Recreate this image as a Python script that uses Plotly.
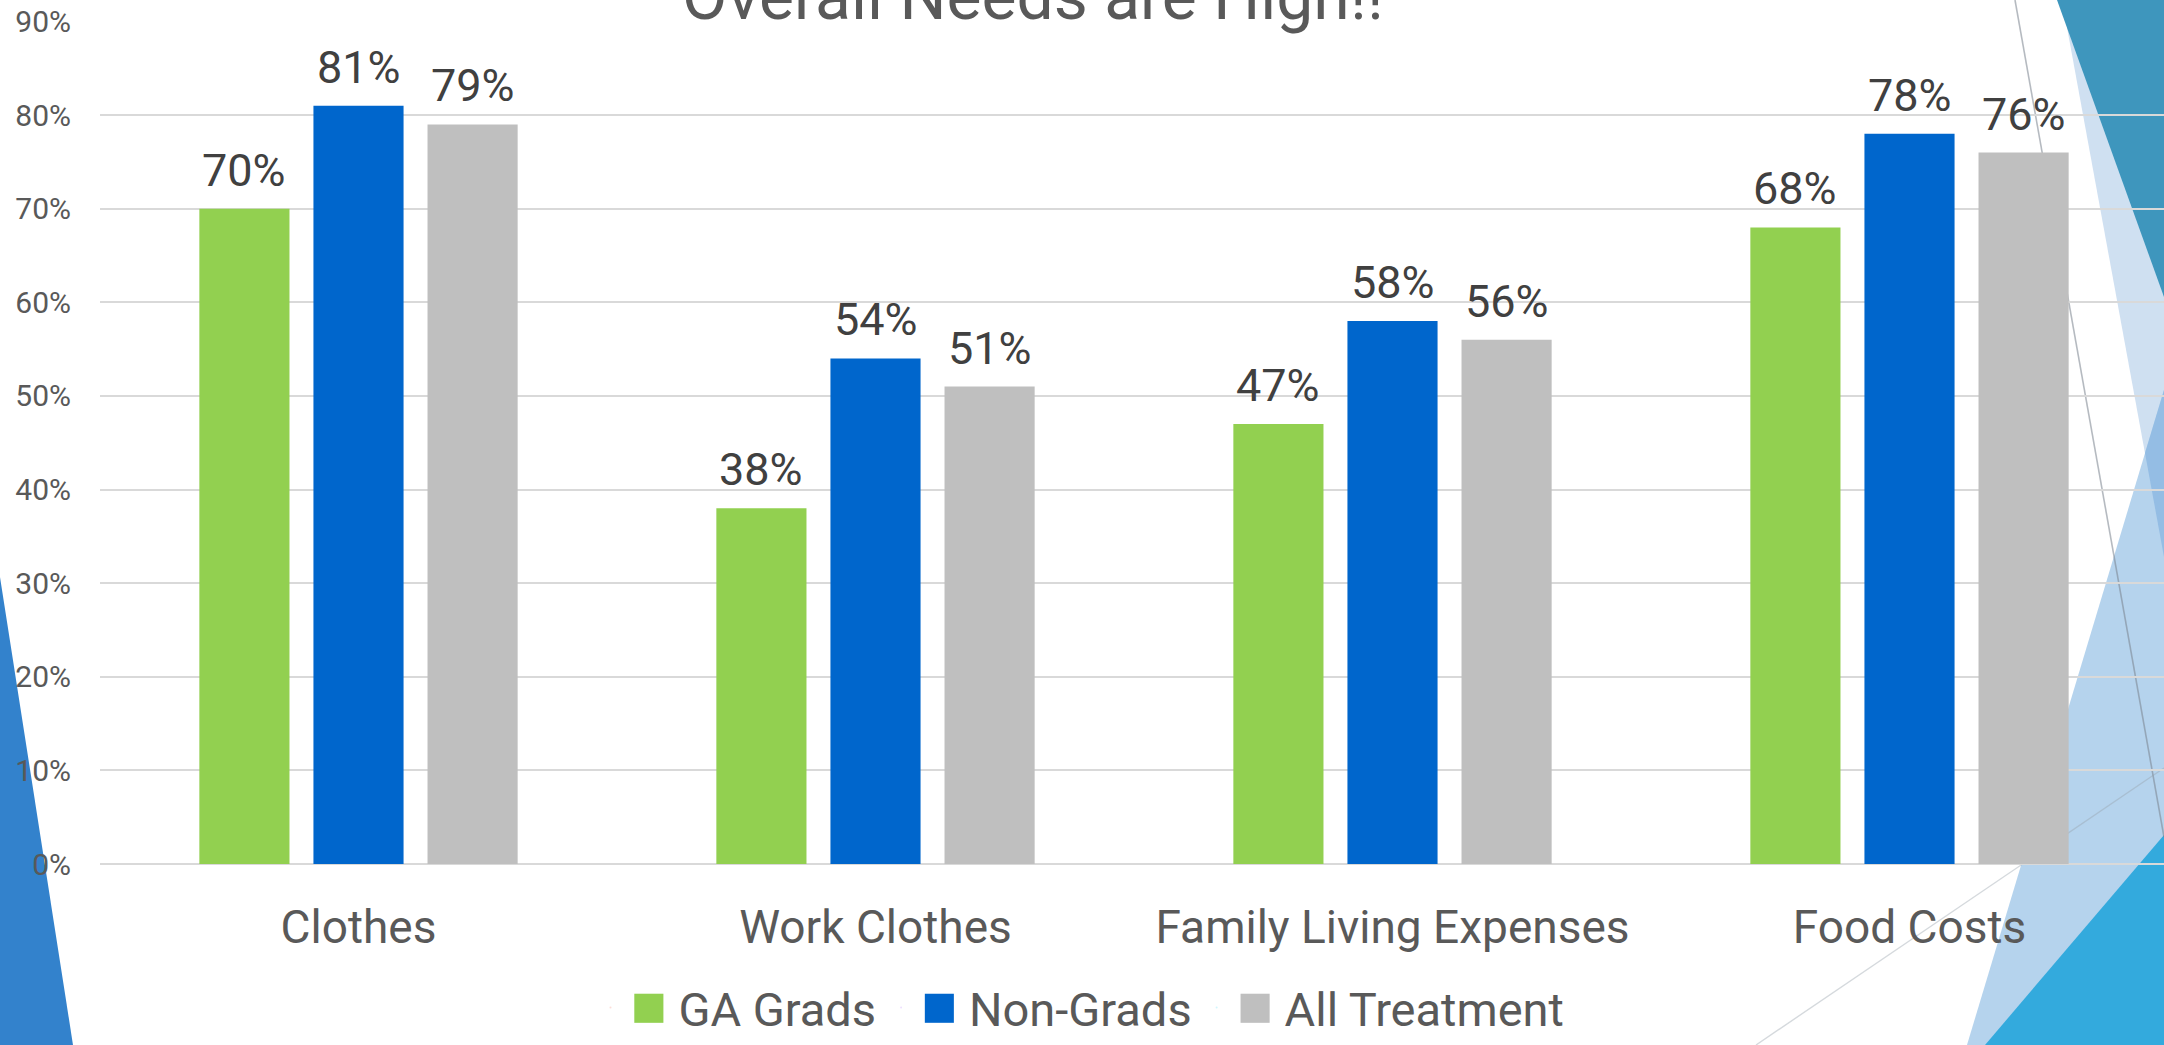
import plotly.graph_objects as go

categories = ["Clothes", "Work Clothes", "Family Living Expenses", "Food Costs"]
series_names = ["GA Grads", "Non-Grads", "All Treatment"]
ga_grads = [0.70, 0.38, 0.47, 0.68]
non_grads = [0.81, 0.54, 0.58, 0.78]
all_treatment = [0.79, 0.51, 0.56, 0.76]
colors = ["#92D050", "#0066CC", "#BFBFBF"]
title_text = "Overall Needs are High!!"

W, H = 2164, 1045
ML, MR, MT, MB = 100, 0, 21, 181
PW, PH = W - ML - MR, H - MT - MB
BARGAP, GROUPGAP = 0.338, 0.21


def px(x):
    return (x - ML) / PW


def py(y):
    return (H - MB - y) / PH


def poly(pts):
    return "M " + " L ".join(f"{px(a):.5f},{py(b):.5f}" for a, b in pts) + " Z"


fig = go.Figure()
series = [ga_grads, non_grads, all_treatment]
n = len(series)
slot = (1 - BARGAP) / n
annotations = []
for j, (name, vals, col) in enumerate(zip(series_names, series, colors)):
    fig.add_trace(go.Bar(
        x=categories, y=vals, name=name, marker=dict(color=col, line=dict(width=0)),
        showlegend=False, legendgroup=name, hovertemplate="%{x}: %{y:.0%}<extra>" + name + "</extra>",
    ))
    fig.add_trace(go.Scatter(
        x=[None], y=[None], mode="markers", marker=dict(opacity=0, size=1),
        name=f"<span style='font-size:60px;color:{col}'>■</span> {name}",
        legendgroup=name, showlegend=True, hoverinfo="skip",
    ))
    for i, v in enumerate(vals):
        annotations.append(dict(
            x=i + (j - (n - 1) / 2) * slot, y=v, xref="x", yref="y",
            text=f"{v:.0%}", showarrow=False, xanchor="center", yanchor="bottom",
            yshift=11, borderpad=0,
            font=dict(family="Roboto", size=45, color="#404040"),
        ))

annotations.append(dict(
    x=px(1033), y=py(36), xref="paper", yref="paper", text=title_text,
    showarrow=False, xanchor="center", yanchor="bottom", borderpad=0,
    font=dict(family="Roboto", size=66, color="#595959"),
))

shapes = []
# decorative background shapes (slide design)
deco = [
    ([(0, 577), (73, 1045), (0, 1045)], "#3382CC"),
    ([(2062, 0), (2164, 557), (2164, 0)], "#CFE0F1"),
    ([(2057, 0), (2164, 0), (2164, 297)], "#3E96BD"),
    ([(1967, 1045), (2164, 390), (2164, 1045)], "#B5D3ED"),
    ([(2164, 390), (2145, 453), (2164, 557)], "#94BDE4"),
    ([(1985, 1045), (2164, 835), (2164, 1045)], "#33AADD"),
]
for pts, col in deco:
    shapes.append(dict(type="path", xref="paper", yref="paper", path=poly(pts),
                       fillcolor=col, line=dict(width=0), layer="below"))
shapes.append(dict(type="line", xref="paper", yref="paper",
                   x0=px(2015), y0=py(0), x1=px(2164), y1=py(837),
                   line=dict(color="rgba(120,130,140,0.55)", width=1.6), layer="below"))
shapes.append(dict(type="line", xref="paper", yref="paper",
                   x0=px(1756), y0=py(1045), x1=px(2164), y1=py(768),
                   line=dict(color="rgba(150,160,170,0.4)", width=1.4), layer="below"))

fig.update_layout(
    width=W, height=H,
    margin=dict(l=ML, r=MR, t=MT, b=MB, pad=0, autoexpand=False),
    paper_bgcolor="white", plot_bgcolor="rgba(0,0,0,0)",
    font=dict(family="Roboto", color="#595959"),
    barmode="group", bargap=BARGAP, bargroupgap=GROUPGAP,
    shapes=shapes, annotations=annotations,
    legend=dict(orientation="h", x=px(1080), xanchor="center", y=py(1008), yanchor="middle",
                font=dict(family="Roboto", size=47, color="#595959"),
                bgcolor="rgba(0,0,0,0)", itemwidth=30, traceorder="normal"),
    showlegend=True,
)
fig.update_xaxes(range=[-0.5, -0.5 + PW / 517], showgrid=False, showline=False,
                 ticks="", tickfont=dict(family="Roboto", size=46, color="#595959"),
                 ticklabelstandoff=32, zeroline=False, automargin=False)
fig.update_yaxes(range=[0, 0.9005], dtick=0.1, tick0=0, tickformat=".0%",
                 showgrid=True, gridcolor="#D9D9D9", gridwidth=1.5,
                 zeroline=True, zerolinecolor="#D9D9D9", zerolinewidth=1.5,
                 showline=False, ticks="", ticklabelstandoff=28, automargin=False,
                 tickfont=dict(family="Roboto", size=30, color="#595959"))

fig.write_html(
    "out.html",
    config={"displayModeBar": False},
    post_script="document.body.style.margin='0px';document.body.style.overflow='hidden';",
)
